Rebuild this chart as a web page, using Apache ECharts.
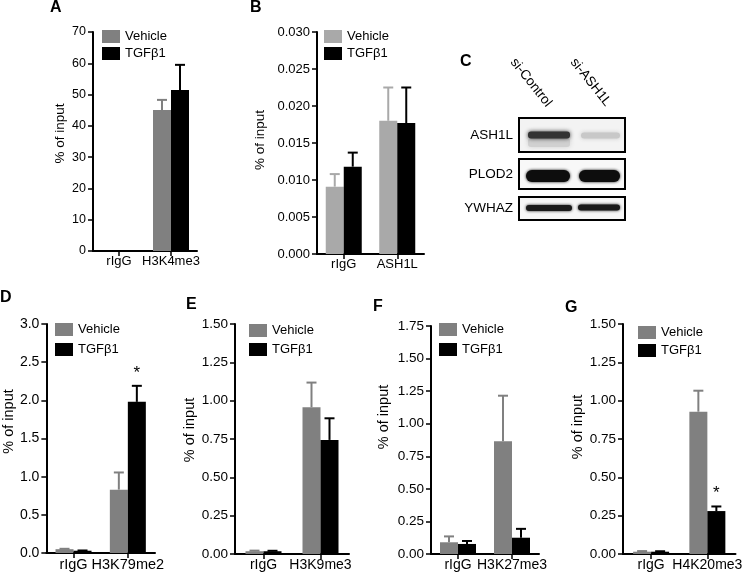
<!DOCTYPE html>
<html>
<head>
<meta charset="utf-8">
<script src="https://cdn.jsdelivr.net/npm/echarts@6/dist/echarts.min.js"></script>
<style>
html, body { margin: 0; padding: 0; background: #fff; }
#chart { width: 745px; height: 574px; }
</style>
</head>
<body>
<div id="chart"></div>
<script>
// ---------------- DATA ----------------
const seriesNames = ['Vehicle', 'TGFβ1'];

// Panel A
const catsA = ['rIgG', 'H3K4me3'];
const vehA = [0, 45.1];
const vehErrA = [0, 3.2];
const tgfA = [0, 51.5];
const tgfErrA = [0, 8.0];
const sigA = ['', ''];
const ticksA = [0, 10, 20, 30, 40, 50, 60, 70];

// Panel B
const catsB = ['rIgG', 'ASH1L'];
const vehB = [0.0091, 0.0180];
const vehErrB = [0.0017, 0.0045];
const tgfB = [0.0118, 0.0177];
const tgfErrB = [0.0019, 0.0048];
const sigB = ['', ''];
const ticksB = [0, 0.005, 0.010, 0.015, 0.020, 0.025, 0.030];

// Panel D
const catsD = ['rIgG', 'H3K79me2'];
const vehD = [0.05, 0.83];
const vehErrD = [0.005, 0.225];
const tgfD = [0.03, 1.98];
const tgfErrD = [0.003, 0.21];
const sigD = ['', '*'];
const ticksD = [0, 0.5, 1.0, 1.5, 2.0, 2.5, 3.0];

// Panel E
const catsE = ['rIgG', 'H3K9me3'];
const vehE = [0.018, 0.957];
const vehErrE = [0.004, 0.161];
const tgfE = [0.018, 0.744];
const tgfErrE = [0.003, 0.141];
const sigE = ['', ''];
const ticksE = [0, 0.25, 0.50, 0.75, 1.00, 1.25, 1.50];

// Panel F
const catsF = ['rIgG', 'H3K27me3'];
const vehF = [0.09, 0.865];
const vehErrF = [0.045, 0.35];
const tgfF = [0.077, 0.125];
const tgfErrF = [0.023, 0.068];
const sigF = ['', ''];
const ticksF = [0, 0.25, 0.50, 0.75, 1.00, 1.25, 1.50, 1.75];

// Panel G
const catsG = ['rIgG', 'H4K20me3'];
const vehG = [0.015, 0.928];
const vehErrG = [0.004, 0.137];
const tgfG = [0.015, 0.28];
const tgfErrG = [0.003, 0.03];
const sigG = ['', '*'];
const ticksG = [0, 0.25, 0.50, 0.75, 1.00, 1.25, 1.50];

// Western blot (panel C) text
const blotLanes = ['si-Control', 'si-ASH1L'];
const blotRows = ['ASH1L', 'PLOD2', 'YWHAZ'];

// ---------------- LAYOUT ----------------
const FONT = '"Liberation Sans", Arial, Helvetica, sans-serif';
const BAR_W = 18;

const panels = [
  { letter: 'A', cats: catsA, veh: vehA, vehErr: vehErrA, tgf: tgfA, tgfErr: tgfErrA, sig: sigA, ticks: ticksA, dec: 0,
    grid: { left: 93, top: 32, width: 104, height: 219 }, vehColor: '#808080',
    legend: { left: 102, top: 30, gap: 4 }, nameGap: 26, nameShift: 16, ySize: 12.5, xSize: 13, nameSize: 13.5 },
  { letter: 'B', cats: catsB, veh: vehB, vehErr: vehErrB, tgf: tgfB, tgfErr: tgfErrB, sig: sigB, ticks: ticksB, dec: 3,
    grid: { left: 317, top: 32, width: 107, height: 222 }, vehColor: '#a9a9a9',
    legend: { left: 324, top: 30, gap: 4 }, nameGap: 50, nameShift: 6, ySize: 13, xSize: 13, nameSize: 13.5 },
  { letter: 'D', cats: catsD, veh: vehD, vehErr: vehErrD, tgf: tgfD, tgfErr: tgfErrD, sig: sigD, ticks: ticksD, dec: 1,
    grid: { left: 42, top: 324, width: 113, height: 229 }, vehColor: '#808080',
    legend: { left: 55, top: 323, gap: 7 }, nameGap: 25, nameShift: 34, ySize: 14, xSize: 14.5, nameSize: 14.5 },
  { letter: 'E', cats: catsE, veh: vehE, vehErr: vehErrE, tgf: tgfE, tgfErr: tgfErrE, sig: sigE, ticks: ticksE, dec: 2,
    grid: { left: 235, top: 324, width: 114, height: 230 }, vehColor: '#808080',
    legend: { left: 249, top: 324, gap: 6 }, nameGap: 35, nameShift: 18, ySize: 13.5, xSize: 14, nameSize: 14.5 },
  { letter: 'F', cats: catsF, veh: vehF, vehErr: vehErrF, tgf: tgfF, tgfErr: tgfErrF, sig: sigF, ticks: ticksF, dec: 2,
    grid: { left: 431, top: 326, width: 108, height: 228 }, vehColor: '#808080',
    legend: { left: 439, top: 323, gap: 7 }, nameGap: 40, nameShift: 46, ySize: 13.5, xSize: 14, nameSize: 14.5 },
  { letter: 'G', cats: catsG, veh: vehG, vehErr: vehErrG, tgf: tgfG, tgfErr: tgfErrG, sig: sigG, ticks: ticksG, dec: 2,
    grid: { left: 623, top: 324, width: 114, height: 230 }, vehColor: '#808080',
    legend: { left: 638, top: 326, gap: 5 }, nameGap: 35, nameShift: 24, ySize: 13.5, xSize: 14, nameSize: 14.5 }
];

const letterPos = { A: [50, 0], B: [250, 0], C: [460, 54], D: [0, 290], E: [186, 297], F: [373, 299], G: [565, 300] };

function errSeries(p, idx, name, vals, errs, offset, color, sig) {
  return {
    type: 'custom', name: name, xAxisIndex: idx, yAxisIndex: idx, z: 5,
    data: p.cats.map((c, i) => [i, vals[i], errs[i]]),
    encode: { x: 0, y: 1 },
    renderItem: function (params, api) {
      const i = api.value(0), v = api.value(1), e = api.value(2);
      const base = api.coord([i, v]);
      const top = api.coord([i, v + e]);
      const x = base[0] + offset;
      const children = [];
      if (e > 0) {
        children.push({ type: 'line', shape: { x1: x, y1: base[1], x2: x, y2: top[1] }, style: { stroke: color, lineWidth: 2 } });
        children.push({ type: 'line', shape: { x1: x - 5, y1: top[1], x2: x + 5, y2: top[1] }, style: { stroke: color, lineWidth: 2 } });
      }
      if (sig && sig[i]) {
        children.push({ type: 'text', x: x, y: top[1] - 13,
          style: { text: sig[i], fill: '#000', font: '17px ' + FONT, align: 'center', verticalAlign: 'middle' } });
      }
      return { type: 'group', children: children };
    }
  };
}

const grids = [], xAxes = [], yAxes = [], series = [], legends = [];
panels.forEach((p, idx) => {
  grids.push(Object.assign({ containLabel: false }, p.grid));
  xAxes.push({
    type: 'category', gridIndex: idx, data: p.cats,
    axisLine: { show: true, lineStyle: { color: '#000', width: 2 } },
    axisTick: { show: true, alignWithLabel: true, length: 5, lineStyle: { color: '#000', width: 1.5 } },
    axisLabel: { interval: 0, color: '#000', fontSize: p.xSize, fontFamily: FONT, margin: 4 },
    splitLine: { show: false }
  });
  const t = p.ticks;
  yAxes.push({
    type: 'value', gridIndex: idx, min: t[0], max: t[t.length - 1], interval: t[1] - t[0],
    name: '% of input', nameLocation: 'middle', nameGap: p.nameGap,
    nameTextStyle: { color: '#000', fontSize: p.nameSize, fontFamily: FONT, padding: [0, 0, 0, p.nameShift] },
    axisLine: { show: true, lineStyle: { color: '#000', width: 2 } },
    axisTick: { show: true, length: 5, lineStyle: { color: '#000', width: 1.5 } },
    axisLabel: { color: '#000', fontSize: p.ySize, fontFamily: FONT, margin: 7,
      formatter: (v) => Number(v).toFixed(p.dec) },
    splitLine: { show: false }
  });
  series.push({ type: 'bar', name: seriesNames[0], xAxisIndex: idx, yAxisIndex: idx, data: p.veh,
    barWidth: BAR_W, barGap: '0%', itemStyle: { color: p.vehColor } });
  series.push({ type: 'bar', name: seriesNames[1], xAxisIndex: idx, yAxisIndex: idx, data: p.tgf,
    barWidth: BAR_W, barGap: '0%', itemStyle: { color: '#000' } });
  series.push(errSeries(p, idx, 'err-veh-' + p.letter, p.veh, p.vehErr, -BAR_W / 2, p.vehColor, null));
  series.push(errSeries(p, idx, 'err-tgf-' + p.letter, p.tgf, p.tgfErr, BAR_W / 2, '#000', p.sig));
  legends.push({
    orient: 'vertical', left: p.legend.left, top: p.legend.top, padding: 0,
    itemGap: p.legend.gap, itemWidth: 18, itemHeight: 13, icon: 'rect', selectedMode: false,
    textStyle: { color: '#000', fontSize: 13, fontFamily: FONT, lineHeight: 13 },
    data: [
      { name: seriesNames[0], itemStyle: { color: p.vehColor } },
      { name: seriesNames[1], itemStyle: { color: '#000' } }
    ]
  });
});

// Panel letters and panel C (western blot) as graphic elements
const graphics = [];
Object.keys(letterPos).forEach(k => {
  graphics.push({ type: 'text', x: letterPos[k][0], y: letterPos[k][1],
    style: { text: k, fill: '#000', font: 'bold 16px ' + FONT, align: 'left', verticalAlign: 'top' } });
});

const boxes = [
  { x: 519, y: 118, w: 106, h: 34, fill: '#f3f3f3', ty: 135 },
  { x: 519, y: 159, w: 106, h: 30, fill: '#f8f8f8', ty: 174 },
  { x: 519, y: 197, w: 106, h: 23, fill: '#f6f6f6', ty: 208 }
];
boxes.forEach((b, i) => {
  graphics.push({ type: 'rect', shape: { x: b.x, y: b.y, width: b.w, height: b.h },
    style: { fill: b.fill, stroke: '#000', lineWidth: 2 }, z: 10 });
  graphics.push({ type: 'text', x: 513, y: b.ty,
    style: { text: blotRows[i], fill: '#000', font: '13.5px ' + FONT, align: 'right', verticalAlign: 'middle' } });
});
const bands = [
  { x: 528, y: 138, w: 42, h: 9, fill: '#d0d0d0', r: 3, blur: 5 },
  { x: 528, y: 131.5, w: 42, h: 7, fill: '#333333', r: 3, blur: 4 },
  { x: 581, y: 132.5, w: 39, h: 6, fill: '#c8c8c8', r: 3, blur: 4 },
  { x: 526, y: 170, w: 44, h: 12, fill: '#0d0d0d', r: 6, blur: 3 },
  { x: 579, y: 170, w: 41, h: 12, fill: '#0d0d0d', r: 6, blur: 3 },
  { x: 526, y: 205, w: 46, h: 6, fill: '#1a1a1a', r: 3, blur: 3 },
  { x: 578, y: 204.5, w: 42, h: 6, fill: '#1a1a1a', r: 3, blur: 3 }
];
bands.forEach(b => {
  graphics.push({ type: 'rect', shape: { x: b.x, y: b.y, width: b.w, height: b.h, r: b.r },
    style: { fill: b.fill, shadowBlur: b.blur, shadowColor: b.fill }, z: 11 });
});
const laneLabelPos = [[513, 60], [573, 60]];
blotLanes.forEach((s, i) => {
  graphics.push({ type: 'text', x: laneLabelPos[i][0], y: laneLabelPos[i][1], rotation: -0.9,
    style: { text: s, fill: '#000', font: '13.5px ' + FONT, align: 'left', verticalAlign: 'middle' } });
});

const chart = echarts.init(document.getElementById('chart'), null, { renderer: 'canvas' });
chart.setOption({
  animation: false,
  backgroundColor: '#fff',
  textStyle: { fontFamily: FONT },
  grid: grids,
  xAxis: xAxes,
  yAxis: yAxes,
  legend: legends,
  series: series,
  graphic: graphics
});
</script>
</body>
</html>
